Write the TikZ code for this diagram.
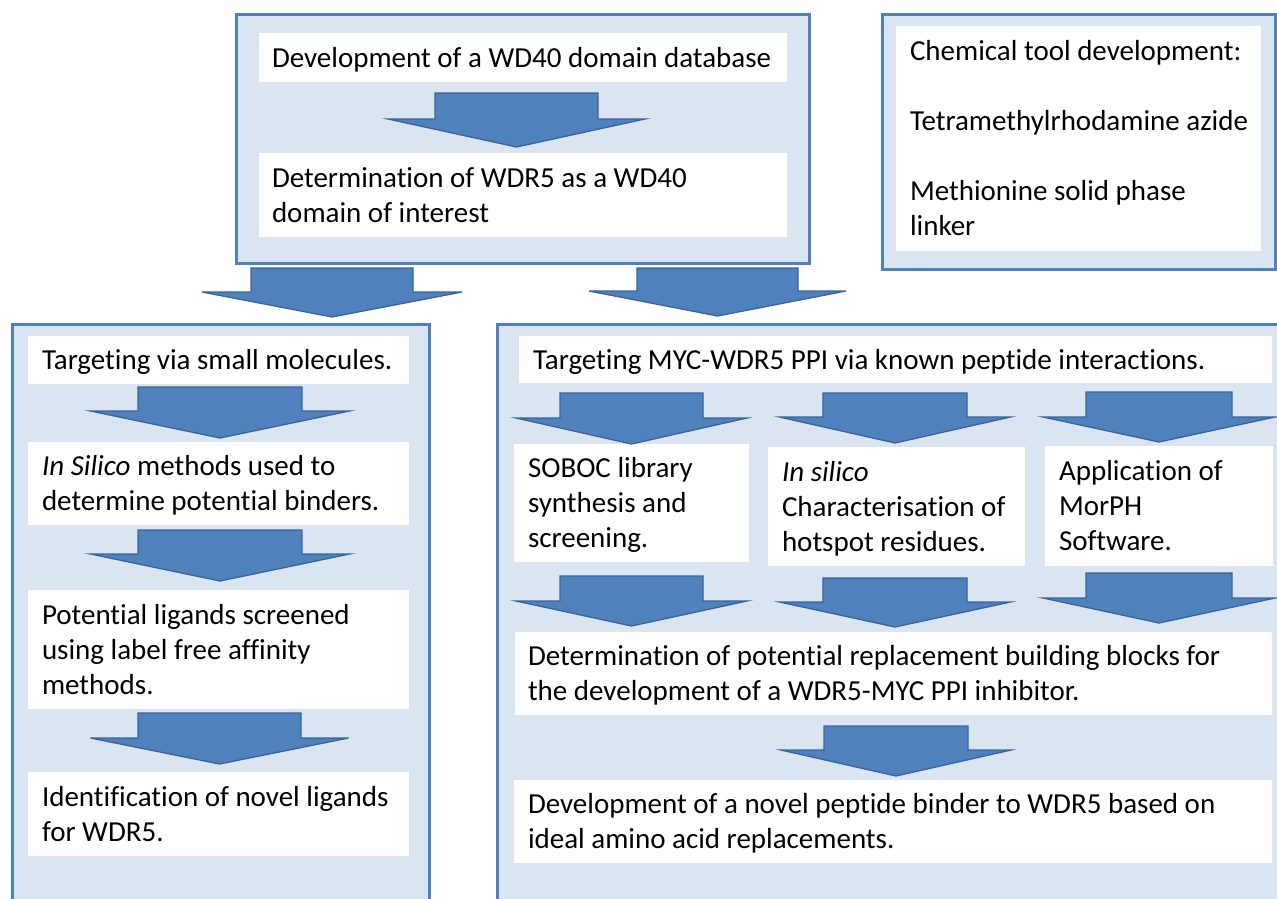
\documentclass[tikz,border=0pt]{standalone}
\usepackage{fontspec}
\setmainfont{Carlito}[Ligatures=NoCommon]
\usetikzlibrary{fit}
\definecolor{boxfill}{HTML}{DBE5F1}
\definecolor{accent}{HTML}{4F81BD}
\definecolor{arrowline}{HTML}{3A6497}
% cx, top, stem half width, shoulder y, head half width, tip y
\newcommand\downblock[6]{%
  \filldraw[fill=accent, draw=arrowline, line width=1.3pt, line join=miter]
    (#1-#3,#2) -- (#1+#3,#2) -- (#1+#3,#4) -- (#1+#5,#4) -- (#1,#6)
    -- (#1-#5,#4) -- (#1-#3,#4) -- cycle;}
\tikzset{
  outerbox/.style={draw=accent, fill=boxfill, line width=3pt, inner sep=0pt, rectangle},
  whitebox/.style={fill=white, inner sep=0pt, rectangle},
  label text/.style={anchor=west, inner sep=0pt, align=left, yshift=-2.5pt,
    font=\fontsize{29}{35}\selectfont, text=black}
}
\begin{document}
\begin{tikzpicture}[x=1pt,y=-1pt]
\useasboundingbox (0,0) rectangle (1277,898);
\begin{scope}
\clip (0,0) rectangle (1277,898);
% outer panels
\node[outerbox, fit={(236,14) (809,263)}] (top) {};
\node[outerbox, fit={(882,14) (1275,269)}] (chemo) {};
\node[outerbox, fit={(12,324) (429,910)}] (left) {};
\node[outerbox, fit={(497,324) (1295,910)}] (right) {};
% white boxes
\node[whitebox, fit={(259,33) (787,82)}] (dev) {};
\node[whitebox, fit={(259,153) (787,237)}] (det) {};
\node[whitebox, fit={(896,26) (1261,251)}] (chem) {};
\node[whitebox, fit={(28,336) (409,384)}] (tsm) {};
\node[whitebox, fit={(28,442) (409,525)}] (insil) {};
\node[whitebox, fit={(28,590) (409,709)}] (pot) {};
\node[whitebox, fit={(28,772) (409,856)}] (ident) {};
\node[whitebox, fit={(519,336) (1272,383)}] (myc) {};
\node[whitebox, fit={(514,444) (749,562)}] (soboc) {};
\node[whitebox, fit={(768,447) (1025,566)}] (hot) {};
\node[whitebox, fit={(1045,446) (1273,566)}] (morph) {};
\node[whitebox, fit={(515,632) (1272,715)}] (detp) {};
\node[whitebox, fit={(514,780) (1272,863)}] (devp) {};
% block arrows
\downblock{516.5}{93}{81.5}{119}{128.5}{147}
\downblock{332}{268}{81}{292}{130}{317}
\downblock{717.5}{268}{80.5}{291}{128.5}{316}
\downblock{220}{387}{82}{411}{129.5}{438}
\downblock{220}{530}{82}{554}{129.5}{581}
\downblock{219.5}{713}{81.5}{738}{129}{764}
\downblock{631.5}{393}{71.5}{418}{115.5}{444}
\downblock{895}{393}{72}{417}{115.5}{443}
\downblock{1159}{392}{73}{417}{116}{442}
\downblock{631.5}{576}{71.5}{601}{115.5}{626}
\downblock{895}{578}{72}{602}{115.5}{627}
\downblock{1159}{573}{73}{598}{116}{623}
\downblock{896}{726}{72}{750}{115}{776}
% texts
\node[label text] (dev-t) at ([xshift=13pt]dev.west) {\strut Development of a WD40 domain database\strut};
\node[label text] (det-t) at ([xshift=13pt]det.west) {\strut Determination of WDR5 as a WD40\\ domain of interest\strut};
\node[label text] (chem-t) at ([xshift=14pt]chem.west) {\strut Chemical tool development:\\[35pt] Tetramethylrhodamine azide\\[35pt] Methionine solid phase\\ linker\strut};
\node[label text] (tsm-t) at ([xshift=14pt]tsm.west) {\strut Targeting via small molecules.\strut};
\node[label text] (insil-t) at ([xshift=14pt]insil.west) {\strut\textit{In Silico} methods used to\\ determine potential binders.\strut};
\node[label text] (pot-t) at ([xshift=14pt]pot.west) {\strut Potential ligands screened\\ using label free affinity\\ methods.\strut};
\node[label text] (ident-t) at ([xshift=14pt]ident.west) {\strut Identification of novel ligands\\ for WDR5.\strut};
\node[label text] (myc-t) at ([xshift=14pt]myc.west) {\strut Targeting MYC-WDR5 PPI via known peptide interactions.\strut};
\node[label text] (soboc-t) at ([xshift=14pt]soboc.west) {\strut SOBOC library\\ synthesis and\\ screening.\strut};
\node[label text] (hot-t) at ([xshift=14pt]hot.west) {\strut\textit{In silico}\\ Characterisation of\\ hotspot residues.\strut};
\node[label text] (morph-t) at ([xshift=14pt]morph.west) {\strut Application of\\ MorPH\\ Software.\strut};
\node[label text] (detp-t) at ([xshift=13pt]detp.west) {\strut Determination of potential replacement building blocks for\\ the development of a WDR5-MYC PPI inhibitor.\strut};
\node[label text] (devp-t) at ([xshift=14pt]devp.west) {\strut Development of a novel peptide binder to WDR5 based on\\ ideal amino acid replacements.\strut};
\end{scope}
\end{tikzpicture}
\end{document}
